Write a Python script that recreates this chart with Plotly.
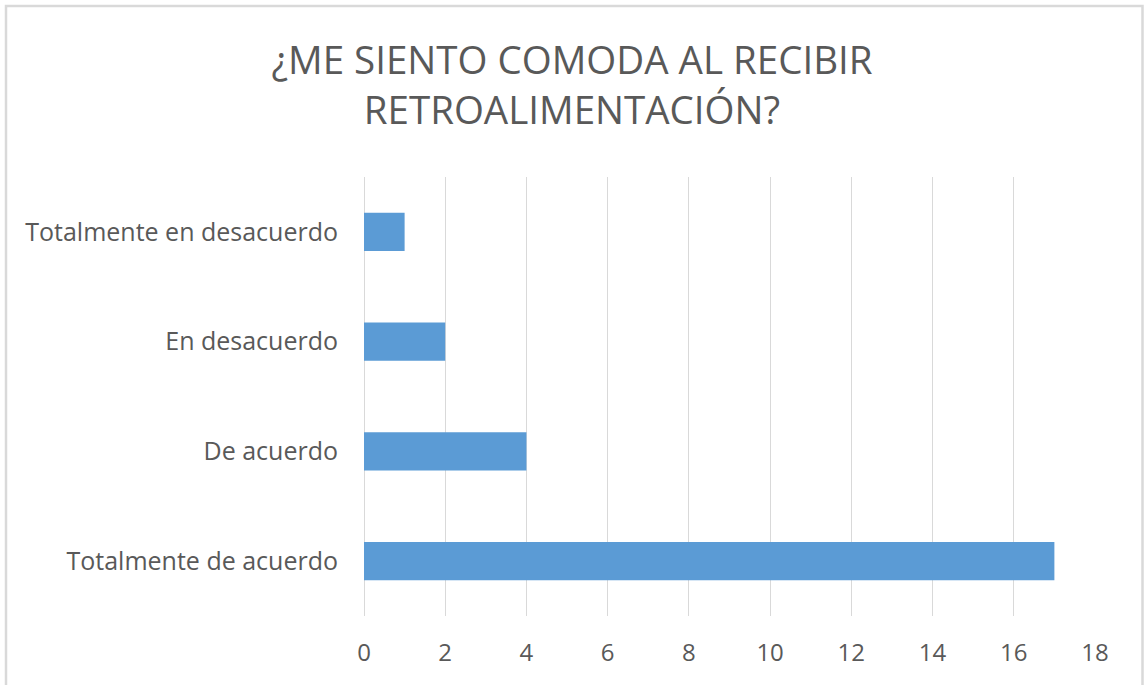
import plotly.graph_objects as go

categories = ["Totalmente de acuerdo", "De acuerdo", "En desacuerdo", "Totalmente en desacuerdo"]
values = [17, 4, 2, 1]
x_ticks = [0, 2, 4, 6, 8, 10, 12, 14, 16, 18]
title_text = "¿ME SIENTO COMODA AL RECIBIR<br>RETROALIMENTACIÓN?"

W, H = 1144, 685
L, R, T, B = 364, 49, 177, 69
pw, ph = W - L - R, H - T - B

FONT = "Open Sans"
GRAY = "#595959"

fig = go.Figure(go.Bar(
    x=values, y=categories, orientation="h",
    marker=dict(color="#5B9BD5", line=dict(width=0)),
    width=0.35,
))

def px_to_paper_x(px):
    return (px - L) / pw

def px_to_paper_y(py):
    return (H - B - py) / ph

fig.update_layout(
    width=W, height=H,
    margin=dict(l=L, r=R, t=T, b=B, autoexpand=False),
    paper_bgcolor="white", plot_bgcolor="white",
    showlegend=False,
    title=dict(
        text=title_text, x=0.5, xref="container", xanchor="center",
        y=1 - 74 / H, yref="container", yanchor="middle",
        font=dict(family=FONT, size=38.5, color=GRAY),
    ),
    xaxis=dict(
        range=[0, 18], tickvals=x_ticks, showgrid=True, gridcolor="#d9d9d9", gridwidth=1,
        zeroline=True, zerolinecolor="#d9d9d9", zerolinewidth=1, showline=False,
        ticks="", ticklabelstandoff=20,
        tickfont=dict(family=FONT, size=24, color=GRAY),
    ),
    yaxis=dict(
        type="category", categoryorder="array", categoryarray=categories,
        range=[-0.5, 3.5], showgrid=False, zeroline=False, showline=False, ticks="",
        ticklabelstandoff=25,
        tickfont=dict(family=FONT, size=25, color=GRAY),
    ),
    shapes=[dict(
        type="rect", xref="paper", yref="paper",
        x0=px_to_paper_x(6), x1=px_to_paper_x(1142.5),
        y0=px_to_paper_y(700), y1=px_to_paper_y(6),
        line=dict(color="#d9d9d9", width=2.5), fillcolor="rgba(0,0,0,0)", layer="below",
    )],
    bargap=0.65,
)

fig.write_html(
    "out.html",
    config={"displayModeBar": False},
    post_script="document.body.style.margin='0';document.body.style.overflow='hidden';",
)
